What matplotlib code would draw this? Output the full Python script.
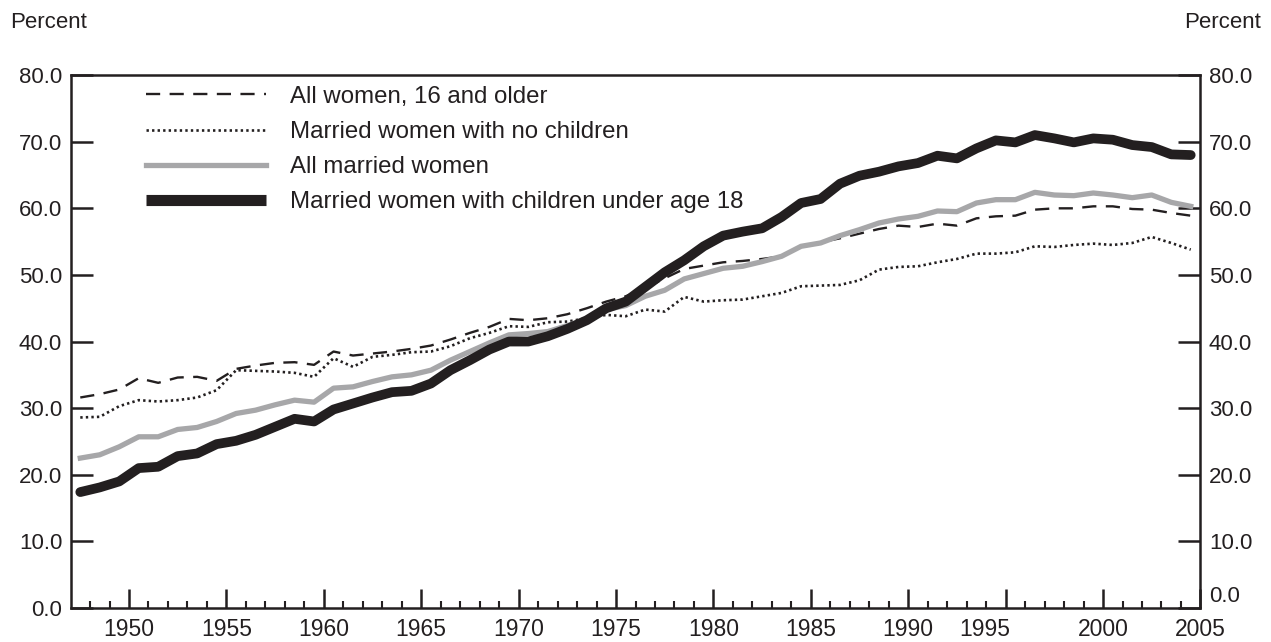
import matplotlib
matplotlib.use("Agg")
import matplotlib.pyplot as plt
import matplotlib.transforms as mtransforms
import numpy as np

plt.rcParams["font.family"] = ["Liberation Sans", "DejaVu Sans"]

years = np.arange(1948, 2006)

all_women = [31.6, 32.1, 32.8, 34.5, 33.8, 34.6, 34.7, 34.1, 35.9, 36.4,
             36.8, 36.9, 36.5, 38.5, 37.9, 38.2, 38.5, 38.9, 39.4, 40.3,
             41.3, 42.2, 43.4, 43.2, 43.5, 44.1, 45.0, 46.0, 46.8, 48.0,
             49.5, 50.9, 51.4, 51.9, 52.1, 52.4, 52.8, 54.2, 54.9, 55.5,
             56.2, 56.9, 57.4, 57.2, 57.7, 57.4, 58.5, 58.8, 58.9, 59.8,
             60.0, 60.0, 60.3, 60.3, 59.9, 59.8, 59.3, 58.9]

married_no_kids = [28.6, 28.7, 30.3, 31.2, 31.0, 31.2, 31.6, 32.7, 35.7, 35.6,
                   35.5, 35.3, 34.7, 37.5, 36.2, 37.7, 38.0, 38.4, 38.5, 39.3,
                   40.5, 41.3, 42.3, 42.2, 42.9, 43.0, 43.5, 44.0, 43.8, 44.8,
                   44.5, 46.7, 46.0, 46.2, 46.3, 46.8, 47.3, 48.3, 48.4, 48.5,
                   49.2, 50.8, 51.2, 51.3, 51.9, 52.4, 53.2, 53.2, 53.4, 54.3,
                   54.2, 54.5, 54.7, 54.5, 54.8, 55.7, 54.8, 53.8]

all_married = [22.5, 23.0, 24.2, 25.7, 25.7, 26.8, 27.1, 28.0, 29.2, 29.7,
               30.5, 31.2, 30.9, 33.0, 33.2, 34.0, 34.7, 35.0, 35.7, 37.2,
               38.5, 39.8, 41.0, 41.2, 41.5, 42.4, 43.3, 44.8, 45.4, 46.8,
               47.7, 49.4, 50.2, 51.0, 51.3, 52.0, 52.8, 54.3, 54.8, 55.9,
               56.8, 57.8, 58.4, 58.8, 59.6, 59.5, 60.8, 61.3, 61.3, 62.4,
               62.0, 61.9, 62.3, 62.0, 61.6, 62.0, 60.9, 60.3]

married_kids = [17.4, 18.1, 19.0, 21.0, 21.2, 22.8, 23.2, 24.6, 25.1, 26.0,
                27.2, 28.4, 28.0, 29.8, 30.7, 31.6, 32.4, 32.6, 33.7, 35.7,
                37.2, 38.8, 40.0, 40.0, 40.8, 41.9, 43.2, 45.0, 46.0, 48.2,
                50.4, 52.2, 54.3, 55.9, 56.5, 57.0, 58.7, 60.8, 61.4, 63.7,
                64.9, 65.5, 66.3, 66.8, 67.9, 67.5, 69.0, 70.2, 69.9, 71.0,
                70.5, 69.9, 70.5, 70.3, 69.5, 69.2, 68.1, 68.0]

labels = ["All women, 16 and older",
          "Married women with no children",
          "All married women",
          "Married women with children under age 18"]

ink = "#231f20"
grey = "#a7a7a9"

fig = plt.figure(figsize=(12.71, 6.42), dpi=100)
ax = fig.add_axes([0.0555, 0.053, 0.889, 0.830])

# each annual value sits mid-year
x = years - 0.5
ax.plot(x, all_women, color=ink, lw=1.7, dashes=(6, 4), label=labels[0])
ax.plot(x, married_no_kids, color=ink, lw=1.9, dashes=(0.9, 1.2), label=labels[1])
ax.plot(x, all_married, color=grey, lw=3.8, label=labels[2])
ax.plot(x, married_kids, color=ink, lw=7.0, solid_capstyle="round", label=labels[3])

ax.set_xlim(1947, 2005)
ax.set_ylim(0, 80)

yt = np.arange(0, 81, 10)
ax.set_yticks(yt)
ax.set_yticklabels(["%.1f" % v for v in yt])
ax.tick_params(axis="y", which="major", direction="in", length=16, width=1.8,
               labelsize=16, colors=ink, pad=6, left=True, right=True,
               labelleft=True, labelright=True)

xt = np.arange(1950, 2006, 5)
ax.set_xticks(xt)
ax.set_xticklabels([str(v) for v in xt])
ax.set_xticks(np.arange(1948, 2005), minor=True)
ax.tick_params(axis="x", which="major", direction="in", length=14, width=1.8,
               labelsize=16.5, colors=ink, pad=7)
ax.tick_params(axis="x", which="minor", direction="in", length=5, width=1.5,
               colors=ink)

for s in ax.spines.values():
    s.set_linewidth(1.8)
    s.set_color(ink)

# odd label placements in the original
for lab in ax.get_xticklabels():
    if lab.get_text() == "1995":
        lab.set_transform(lab.get_transform() +
                          mtransforms.ScaledTranslation(-0.21, 0, fig.dpi_scale_trans))
for tick in ax.yaxis.get_major_ticks():
    if tick.get_loc() == 0:
        tick.label2.set_transform(tick.label2.get_transform() +
                                  mtransforms.ScaledTranslation(0, 0.14, fig.dpi_scale_trans))

leg = ax.legend(loc="upper left", bbox_to_anchor=(0.058, 0.998), frameon=False,
                fontsize=17.3, handlelength=5.0, handletextpad=1.0,
                labelspacing=0.55, borderaxespad=0)
for t in leg.get_texts():
    t.set_color(ink)
leg.get_lines()[3].set_solid_capstyle("butt")
leg.get_lines()[3].set_linewidth(8)

fig.text(0.008, 0.965, "Percent", fontsize=16, color=ink, ha="left", va="center")
fig.text(0.992, 0.965, "Percent", fontsize=16, color=ink, ha="right", va="center")

fig.savefig("out.png", dpi=100)
